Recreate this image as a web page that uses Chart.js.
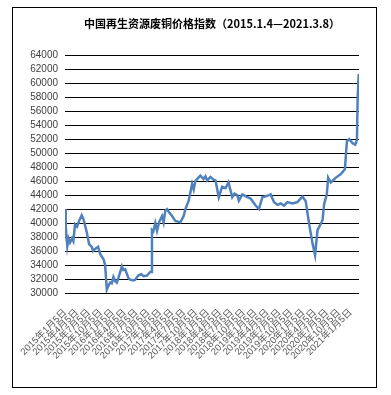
<!DOCTYPE html>
<html>
<head>
  <meta charset="utf-8">
  <title>中国再生资源废铜价格指数</title>
  <style>
    body { margin: 0; background: #fff; }
    #wrap { position: absolute; left: 0; top: 0; width: 391px; height: 395px; }
  </style>
</head>
<body>
<script src="https://cdn.jsdelivr.net/npm/chart.js"></script>
<div id="wrap"><canvas id="copperChart" width="391" height="395"></canvas></div>
<script>
  // months elapsed since 2015-01-05, and index value
  const months = [
    0, 0.18, 0.38, 0.58, 0.88, 1.26, 1.77, 2.1, 2.53, 3.03, 3.54, 4.22, 4.68, 5.49,
    6.07, 6.75, 7.08, 7.59, 8.34, 8.85, 9.28, 9.73, 10.11, 10.54, 10.87, 11.38, 11.81,
    12.21, 12.64, 13.07, 13.48, 14.34, 14.66, 15.17, 16.0, 16.43, 17.19, 17.7, 18.46,
    19.22, 19.8, 20.66, 21.49, 21.74, 21.92, 22.25, 22.76, 23.19, 23.77, 24.45, 24.85,
    25.28, 25.71, 26.12, 26.98, 27.81, 29.08, 29.91, 30.34, 31.18, 32.04, 32.44, 32.87,
    33.63, 34.13, 34.89, 35.4, 35.83, 36.66, 37.42, 37.93, 38.76, 39.62, 40.46, 41.21,
    42.15, 42.73, 43.41, 43.82, 44.68, 45.94, 46.78, 48.04, 48.88, 49.74, 51.0, 51.83,
    52.67, 53.53, 54.36, 55.2, 56.06, 57.32, 58.58, 59.85, 60.68, 61.52, 62.38, 63.03,
    63.64, 64.48, 64.9, 65.31, 65.99, 66.32, 67.0, 68.27, 69.53, 70.54, 71.05, 71.63,
    72.49, 73.15, 73.58, 73.76, 74.01, 74.1
  ];
  const priceIndex = [
    42000, 39500, 38000, 36700, 37800, 37200, 37800, 37400, 39800, 39500, 40300, 41100, 40500, 38700,
    37000, 36600, 36000, 36300, 36600, 35600, 35200, 34800, 34000, 30500, 31000, 31500, 31400,
    32300, 31700, 31500, 32200, 33800, 33300, 33400, 32100, 31900, 31800, 31900, 32500,
    32700, 32400, 32500, 33000, 33000, 39000, 38800, 40000, 38900, 40200, 41000, 40100,
    41800, 42000, 41600, 41000, 40300, 40100, 41000, 42000, 43200, 45600, 44800, 46000,
    46500, 46800, 46300, 46700, 46100, 46600, 46200, 46100, 43700, 45200, 45000, 45800,
    43700, 44200, 44000, 43200, 44100, 43700, 43500, 42500, 42000, 43700, 43900, 44100,
    43000, 42600, 42800, 42500, 43000, 42800, 43000, 43800, 43100, 39900, 37100, 35400,
    39000, 39900, 40400, 42700, 44100, 46500, 45800, 46500, 47000, 47700, 51700, 52000,
    51400, 51200, 51900, 57800, 61100, 61300
  ];
  // quarterly tick positions (months since 2015-01-05)
  const tickMonths = [0, 3, 6, 9, 12, 15, 18, 21, 24, 27, 30, 33, 36, 39, 42, 45, 48, 51, 54, 57, 60, 63, 66, 69, 72];
  const tickLabels = tickMonths.map(m => (2015 + Math.floor(m / 12)) + '年' + (m % 12 + 1) + '月5日');
  const yTicks = [];
  for (let v = 30000; v <= 64000; v += 2000) yTicks.push(v);

  const frame = {
    id: 'frame',
    beforeDraw(chart) {
      const ctx = chart.ctx;
      ctx.save();
      ctx.fillStyle = '#fff';
      ctx.fillRect(0, 0, chart.width, chart.height);
      ctx.strokeStyle = '#000';
      ctx.lineWidth = 1;
      ctx.strokeRect(12.5, 7.5, 364, 380);
      ctx.restore();
    }
  };

  new Chart(document.getElementById('copperChart'), {
    type: 'line',
    data: {
      datasets: [{
        data: months.map((m, i) => ({ x: m, y: priceIndex[i] })),
        borderColor: '#4f81bd',
        borderWidth: 2.5,
        pointRadius: 0,
        tension: 0,
        fill: false
      }]
    },
    options: {
      responsive: false,
      animation: false,
      layout: { padding: { left: 0, right: 32, top: 0, bottom: 0 } },
      plugins: {
        legend: { display: false },
        tooltip: { enabled: false },
        title: {
          display: true,
          fullSize: false,
          text: '中国再生资源废铜价格指数（2015.1.4—2021.3.8）',
          color: '#000',
          font: { family: '"Noto Sans CJK SC", "Liberation Sans", sans-serif', size: 11, weight: 'bold' },
          padding: { top: 17, bottom: 25 }
        }
      },
      scales: {
        x: {
          type: 'linear',
          min: 0,
          max: 74.1,
          grid: { display: false },
          border: { display: false },
          afterBuildTicks: scale => { scale.ticks = tickMonths.map(v => ({ value: v })); },
          afterFit: scale => { scale.height = 102; },
          ticks: {
            autoSkip: false,
            maxRotation: 45,
            minRotation: 45,
            padding: 6,
            color: '#595959',
            font: { family: '"Liberation Sans", "Noto Sans CJK SC", sans-serif', size: 9.5 },
            callback: v => tickLabels[tickMonths.indexOf(v)]
          }
        },
        y: {
          min: 30000,
          max: 64000,
          afterBuildTicks: scale => { scale.ticks = yTicks.map(v => ({ value: v })); },
          afterFit: scale => { scale.width = 65; },
          grid: { color: '#000', lineWidth: 1, drawTicks: false },
          border: { display: false },
          ticks: {
            autoSkip: false,
            padding: 7,
            color: '#404040',
            font: { family: '"Liberation Sans", sans-serif', size: 10 },
            callback: v => String(v)
          }
        }
      }
    },
    plugins: [frame]
  });
</script>
</body>
</html>
